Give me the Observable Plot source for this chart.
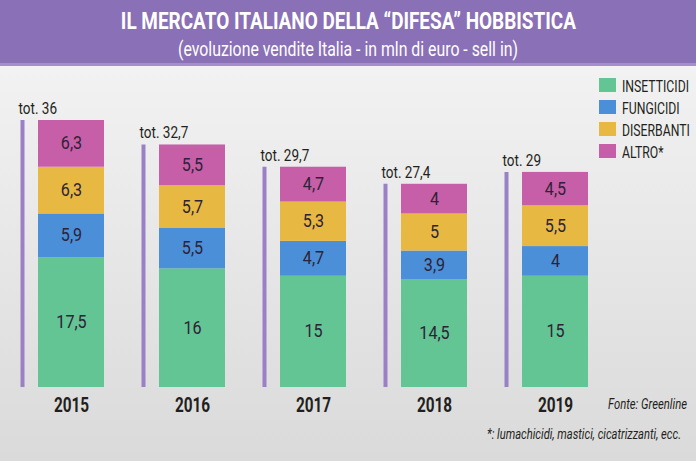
<!DOCTYPE html>
<html><head><meta charset="utf-8">
<script src="https://cdn.jsdelivr.net/npm/d3@7"></script>
<script src="https://cdn.jsdelivr.net/npm/@observablehq/plot@0.6"></script>
<style>
body{margin:0}
#wrap{position:relative;width:696px;height:461px;overflow:hidden;background:linear-gradient(#f6f6f6,#dadada);font-family:Roboto,sans-serif;color:#231f20}
#head{position:absolute;left:0;top:0;width:696px;height:63px;background:#8a70b6;border-bottom:3px solid #a48fcc;color:#fff;text-align:center}
.line{position:absolute;left:0;width:696px;text-align:center;white-space:nowrap}
.line span{display:inline-block;transform-origin:50% 50%}
#title{top:7px;font-size:24px;font-weight:bold;line-height:28px}
#sub{top:37px;font-size:20.5px;line-height:24px}
#chart{position:absolute;left:0;top:0}
.leg{position:absolute;left:599px;font-size:17px;line-height:14px;white-space:nowrap}
.leg i{display:inline-block;width:17px;height:14px;vertical-align:top;margin-right:6px}
.leg span{display:inline-block;transform-origin:0 50%;vertical-align:top;line-height:16px;margin-top:0px}
.free{position:absolute;white-space:nowrap;font-style:italic;transform-origin:0 50%}
#src{left:608px;top:396px;font-size:14.5px}
#note{left:487px;top:426px;font-size:14.5px}
</style>
</head><body>
<div id="wrap">
  <div id="head">
    <div class="line" id="title"><span>IL MERCATO ITALIANO DELLA “DIFESA” HOBBISTICA</span></div>
    <div class="line" id="sub"><span>(evoluzione vendite Italia - in mln di euro - sell in)</span></div>
  </div>
  <div id="chart"></div>
  <div id="legend"></div>
  <div class="free" id="src">Fonte: Greenline</div>
  <div class="free" id="note">*: lumachicidi, mastici, cicatrizzanti, ecc.</div>
</div>
<script>
const years = ["2015","2016","2017","2018","2019"];
const categories = ["INSETTICIDI","FUNGICIDI","DISERBANTI","ALTRO*"];
const colors = ["#63c494","#4a8fd8","#e8b942","#c65fa8"];
const insetticidi = [17.5,16,15,14.5,15];
const fungicidi = [5.9,5.5,4.7,3.9,4];
const diserbanti = [6.3,5.7,5.3,5,5.5];
const altro = [6.3,5.5,4.7,4,4.5];
const totals = [36,32.7,29.7,27.4,29];

const series = [insetticidi,fungicidi,diserbanti,altro];
const rows = [];
years.forEach((yr,i)=>categories.forEach((c,j)=>rows.push({year:yr,cat:c,value:series[j][i]})));
const totRows = years.map((yr,i)=>({year:yr,total:totals[i]}));
const fmt = v => String(v).replace(".", ",");

const chart = Plot.plot({
  width:696, height:461, marginTop:120, marginBottom:74, marginLeft:37, marginRight:108,
  style:{background:"transparent", fontFamily:"Roboto, sans-serif", overflow:"visible"},
  x:{domain:years, paddingInner:0.456, paddingOuter:0, label:null},
  y:{domain:[0,36], axis:null},
  color:{domain:categories, range:colors},
  marks:[
    Plot.ruleX(totRows,{x:"year", y1:0, y2:"total", dx:-49, stroke:"#9a80c4", strokeWidth:4}),
    Plot.barY(rows,{x:"year", y:"value", fill:"cat", order:categories}),
    Plot.text(rows, Plot.stackY({x:"year", y:"value", z:"cat", order:categories, text:d=>fmt(d.value), fill:"#2e2236", fontSize:17.5})),
    Plot.text(totRows,{x:"year", y:"total", text:d=>"tot. "+fmt(d.total), textAnchor:"start", dx:-53, dy:-12, fontSize:16.5, fill:"#231f20"}),
    Plot.axisX({tickSize:0, tickPadding:10, fontSize:21, fontWeight:"bold", fill:"#231f20", label:null})
  ]
});
document.getElementById("chart").appendChild(chart);

// condensed look: squeeze glyphs of year and total labels
chart.querySelectorAll("text").forEach(t=>{
  const s = t.textContent;
  let f = null;
  if (/^20\d\d$/.test(s)) f = 0.73;
  else if (s.startsWith("tot.")) f = 0.82;
  else if (/^[\d,]+$/.test(s)) f = 0.92;
  if (f) {
    const w = t.getComputedTextLength();
    t.setAttribute("textLength", (w*f).toFixed(1));
    t.setAttribute("lengthAdjust","spacingAndGlyphs");
  }
});

const leg = document.getElementById("legend");
categories.forEach((c,i)=>{
  const d = document.createElement("div");
  d.className = "leg";
  d.style.top = (78 + i*22) + "px";
  d.innerHTML = `<i style="background:${colors[i]}"></i><span>${c}</span>`;
  leg.appendChild(d);
});

function squeeze(el, target){
  const w = el.getBoundingClientRect().width;
  el.style.transform = `scaleX(${target/w})`;
  return target/w;
}
squeeze(document.querySelector("#title span"), 455);
squeeze(document.querySelector("#sub span"), 340);
const spans = document.querySelectorAll(".leg span");
const k = 67 / spans[0].getBoundingClientRect().width;
spans.forEach(s=>s.style.transform = `scaleX(${k})`);
squeeze(document.getElementById("src"), 79);
squeeze(document.getElementById("note"), 194);
</script>
</body></html>
